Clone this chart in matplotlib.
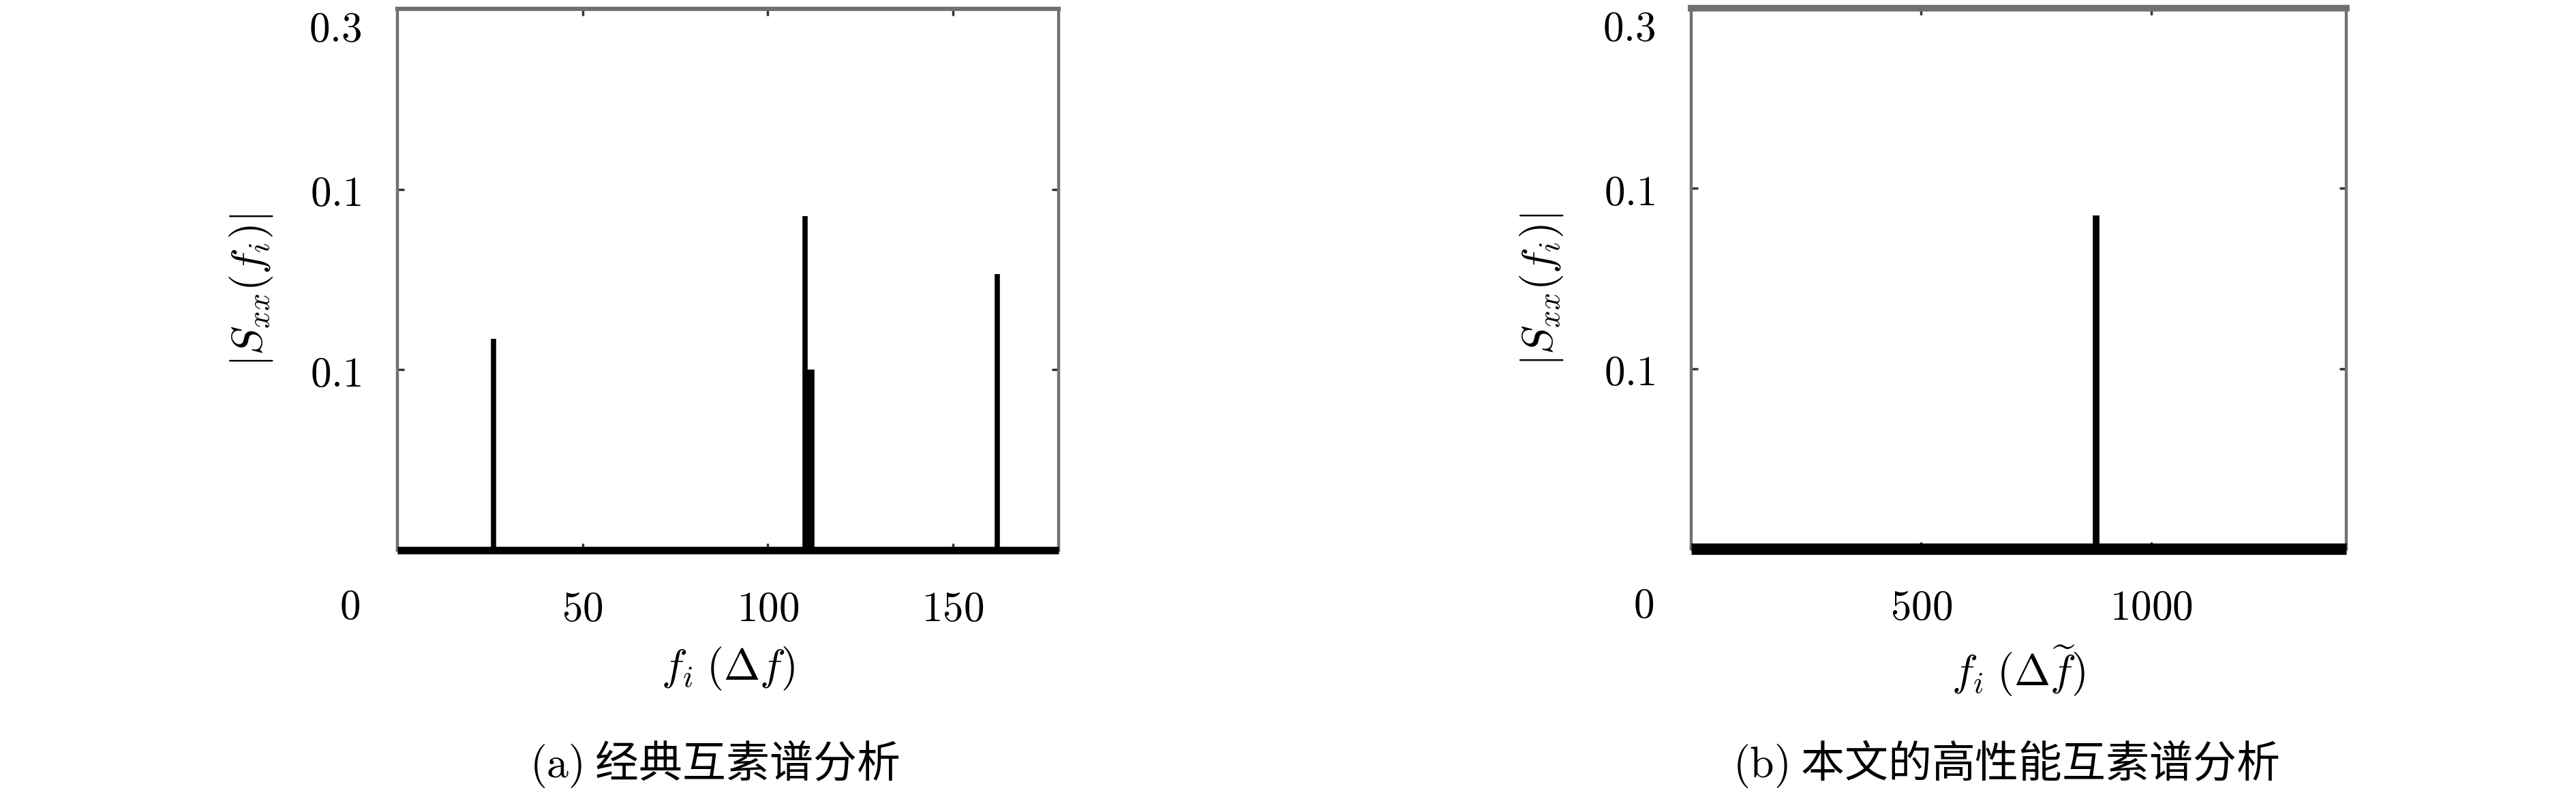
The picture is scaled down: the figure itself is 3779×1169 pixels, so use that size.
import matplotlib.pyplot as plt

plt.rcParams['mathtext.fontset'] = 'cm'
plt.rcParams['font.family'] = ['Noto Sans CJK SC', 'DejaVu Sans']

# panel (a): classic coprime spectrum, peak bins and magnitudes
freq_a = [26, 110, 111, 112, 162]
amp_a = [0.117, 0.185, 0.100, 0.100, 0.153]
xmax_a = 178.5
xticks_a = [50, 100, 150]

# panel (b): proposed high-performance coprime spectrum
freq_b = [881]
amp_b = [0.185]
xmax_b = 1424
xticks_b = [500, 1000]

# shared y axis (labels kept as printed in the original)
yticks = [0.1, 0.2, 0.3]
ytick_labels = ['0.1', '0.1', '0.3']
floor_level = 0.0

ylabel = r'$|S_{xx}(f_i)|$'
xlabel_a = r'$f_i\;(\Delta f)$'
xlabel_b = r'$f_i\;(\Delta \widetilde{f})$'
caption_a = r'$\mathrm{(a)}$ 经典互素谱分析'
caption_b = r'$\mathrm{(b)}$ 本文的高性能互素谱分析'

fig = plt.figure(figsize=(37.8, 11.69), dpi=100)
ax_a = fig.add_axes([0.1542, 0.3097, 0.2566, 0.6792])
ax_b = fig.add_axes([0.6563, 0.3114, 0.2542, 0.6784])

spine_grey = '#707070'


def style_axis(ax, xmax, xticks, xlabel, top_lw, floor_lw, spike_lw,
               freqs, amps, ylab_x):
    # spectrum: thick noise floor plus spectral lines
    ax.hlines(floor_level, 0, xmax, color='black', lw=floor_lw, clip_on=False, zorder=3)
    ax.vlines(freqs, floor_level, amps, color='black', lw=spike_lw, zorder=4)

    ax.set_xlim(0, xmax)
    ax.set_ylim(0, 0.3)
    ax.set_xticks(xticks)
    ax.set_xticklabels([f'${t}$' for t in xticks])
    ax.set_yticks(yticks)
    ax.set_yticklabels([f'${t}$' for t in ytick_labels])
    ax.get_yticklabels()[-1].set_va('top')

    ax.tick_params(direction='in', length=7, width=2.5, color='#333333',
                   top=True, right=True, labelsize=44)
    ax.tick_params(axis='x', pad=40)
    ax.tick_params(axis='y', pad=38)

    for side in ['left', 'right', 'bottom']:
        ax.spines[side].set_color(spine_grey)
        ax.spines[side].set_linewidth(3.2)
    ax.spines['top'].set_color(spine_grey)
    ax.spines['top'].set_linewidth(top_lw)

    ax.set_ylabel(ylabel, fontsize=46)
    ax.yaxis.set_label_coords(ylab_x, 0.48)
    ax.set_xlabel(xlabel, fontsize=46)
    ax.xaxis.set_label_coords(0.5, -0.175)

    # the lone "0" printed at the lower-left corner
    ax.annotate(r'$0$', xy=(0, 0), xycoords='axes fraction', xytext=(-50, -60),
                textcoords='offset points', ha='center', va='center', fontsize=44)


style_axis(ax_a, xmax_a, xticks_a, xlabel_a, 4.5, 8, 5.5, freq_a, amp_a, -0.185)
style_axis(ax_b, xmax_b, xticks_b, xlabel_b, 7, 12, 7, freq_b, amp_b, -0.1925)

fig.text(1048 / 3780, 1 - 1121 / 1169, caption_a, ha='center', va='center', fontsize=46)
fig.text(2943 / 3780, 1 - 1121 / 1169, caption_b, ha='center', va='center', fontsize=46)

fig.savefig('out.png', dpi=100)
